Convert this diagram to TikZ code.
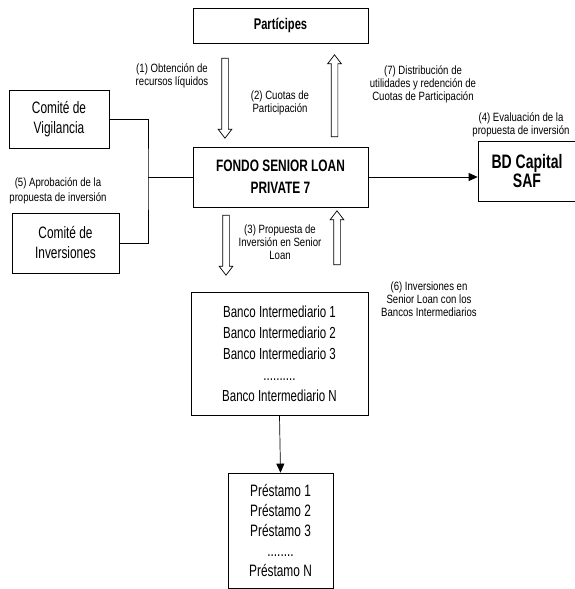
\documentclass[tikz,border=0pt]{standalone}
\usepackage{fontspec}
\setmainfont{Liberation Sans}[FakeStretch=0.8]
\newfontfamily\tallfont{Liberation Sans}[FakeStretch=0.72]
\usetikzlibrary{arrows.meta,positioning,shapes.arrows}

\tikzset{
  box/.style={draw, line width=0.7pt, align=center, inner sep=0pt},
  lbl/.style={align=center, inner sep=0pt, font=\fontsize{12}{13}\selectfont},
  hollow/.style={single arrow, draw, line width=0.7pt, inner sep=3pt,
    single arrow head extend=3.5pt, single arrow tip angle=75,
    single arrow head indent=0pt},
  tip/.style={-{Triangle[length=9pt,width=8pt]}, line width=0.7pt}
}

\begin{document}
\begin{tikzpicture}[x=1pt,y=-1pt]
    \useasboundingbox (0,0) rectangle (575,589);

    \node[box, minimum width=175, minimum height=35, font=\tallfont\bfseries\fontsize{15.5}{16}\selectfont] (participes) at (280.5,25.5) {Partícipes};
    \node[box, minimum width=175, minimum height=60, font=\tallfont\bfseries\fontsize{16.5}{22}\selectfont] (fondo) at (280.5,177) {FONDO SENIOR LOAN\\PRIVATE 7};
    \node[box, minimum width=98, minimum height=60, font=\tallfont\bfseries\fontsize{19.5}{19}\selectfont] (bdcapital) at (527,171) {BD Capital\\SAF};
    \node[box, minimum width=100, minimum height=58, font=\tallfont\fontsize{16.5}{20}\selectfont] (vigilancia) at (59,119) {Comité de\\Vigilancia};
    \node[box, minimum width=107, minimum height=60, font=\tallfont\fontsize{16.5}{20}\selectfont] (inversiones) at (65.5,243) {Comité de\\Inversiones};
    \node[box, minimum width=177, minimum height=123, font=\tallfont\fontsize{16}{21}\selectfont] (bancos) at (279.5,353.5) {Banco Intermediario 1\\Banco Intermediario 2\\Banco Intermediario 3\\..........\\Banco Intermediario N};
    \node[box, minimum width=105, minimum height=115, font=\tallfont\fontsize{16.5}{20}\selectfont] (prestamos) at (280.5,530.5) {Préstamo 1\\Préstamo 2\\Préstamo 3\\........\\Préstamo N};

    % flechas huecas
    \node[hollow, shape border rotate=270, minimum height=80] (obtencion) at (225,96) {};
    \node[hollow, shape border rotate=90, minimum height=82] (distribucion) at (334.5,98) {};
    \node[hollow, shape border rotate=270, minimum height=60] (propuesta) at (226,243) {};
    \node[hollow, shape border rotate=90, minimum height=54] (inversion) at (337,240) {};

    \node[lbl] (lblobtencion) at (172,75.5) {(1) Obtención de\\recursos líquidos};
    \node[lbl] (lblcuotas) at (280,103) {(2) Cuotas de\\Participación};
    \node[lbl] (lblpropuesta) at (280,242.5) {(3) Propuesta de\\Inversión en Senior\\Loan};
    \node[lbl] (lblevaluacion) at (521,124.5) {(4) Evaluación de la\\propuesta de inversión};
    \node[lbl, font=\fontsize{12}{15}\selectfont] (lblaprobacion) at (58,190.5) {(5) Aprobación de la\\propuesta de inversión};
    \node[lbl] (lblinversiones) at (429,299.5) {(6) Inversiones en\\Senior Loan con los\\Bancos Intermediarios};
    \node[lbl] (lbldistribucion) at (423,84) {(7) Distribución de\\utilidades y redención de\\Cuotas de Participación};

    \coordinate (comites) at (148,177);
    \draw[line width=0.7pt] (vigilancia.east) -| (comites) |- (inversiones.east);
    \draw[line width=0.7pt] (comites) -- (fondo.west);
    \draw[tip] (fondo.east) -- (fondo.east -| bdcapital.west);
    \draw[tip] (bancos.south) -- (prestamos.north);

\end{tikzpicture}
\end{document}
